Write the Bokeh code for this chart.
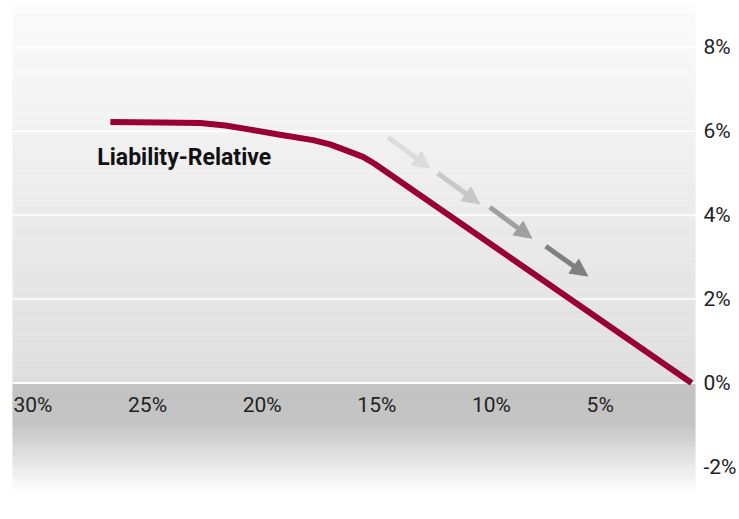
import numpy as np
from bokeh.plotting import figure
from bokeh.models import Range1d, Span, Arrow, NormalHead, ColumnDataSource, FixedTicker
from bokeh.core.properties import value
from bokeh.embed import file_html
from bokeh.resources import INLINE

# ---------------- data ----------------
x_tick_values = [30, 25, 20, 15, 10, 5]
x_tick_labels = ["30%", "25%", "20%", "15%", "10%", "5%"]
y_tick_values = [8, 6, 4, 2, 0, -2]
y_tick_labels = ["8%", "6%", "4%", "2%", "0%", "-2%"]
grid_values = [8, 6, 4, 2, 0]

curve_x = [25.77, 23.59, 21.85, 20.76, 19.67, 18.37, 16.93, 16.19, 15.32, 14.75, 14.23, 0.42]
curve_y = [6.22, 6.21, 6.20, 6.14, 6.04, 5.92, 5.79, 5.69, 5.51, 5.39, 5.22, 0.0]

series_name = "Liability-Relative"
series_label_x = [26.34]
series_label_y = [5.37]

arrow_x_start = [13.66, 11.49, 9.22, 6.78]
arrow_y_start = [5.86, 5.00, 4.19, 3.26]
arrow_x_end = [11.83, 9.66, 7.39, 4.95]
arrow_y_end = [5.12, 4.27, 3.45, 2.55]
arrow_colors = ["#dcdcdc", "#c8c8c8", "#a0a0a0", "#808080"]

# ---------------- styling ----------------
FONT = "Roboto"
X_START, X_END = 30.04, 0.25
Y_MIN, Y_MAX = -2.73, 9.0
LINE_COLOR = "#990033"

p = figure(width=739, height=519,
           x_range=Range1d(X_START, X_END), y_range=Range1d(Y_MIN, Y_MAX),
           x_axis_location=None, y_axis_location="right",
           output_backend="svg", toolbar_location=None,
           min_border_left=12, min_border_right=44, min_border_top=5, min_border_bottom=22,
           background_fill_color="white", border_fill_color="white",
           outline_line_color=None)
p.grid.visible = False

# right axis
ax = p.yaxis[0]
ax.ticker = FixedTicker(ticks=y_tick_values)
ax.major_label_overrides = {v: t for v, t in zip(y_tick_values, y_tick_labels)}
ax.axis_line_color = None
ax.major_tick_line_color = None
ax.minor_tick_line_color = None
ax.major_tick_out = 0
ax.major_tick_in = 0
ax.major_label_standoff = 8
ax.major_label_text_font = FONT
ax.major_label_text_font_size = "21px"
ax.major_label_text_color = "#222222"

# background gradient
edges = np.linspace(Y_MIN, Y_MAX, 241)
bottoms = edges[:-1]
tops = edges[1:]
mids = (bottoms + tops) / 2


def shade(y):
    if y >= 0:
        g = 222 + (251 - 222) * (y / Y_MAX)
    elif y >= -0.9:
        g = 194
    else:
        g = 194 + (255 - 194) * min(1.0, (-0.9 - y) / 1.7)
    g = int(round(g))
    return "#%02x%02x%02x" % (g, g, g)


bg_colors = [shade(m) for m in mids]
bg_src = ColumnDataSource(dict(bottom=bottoms, top=tops, color=bg_colors))
p.quad(left=X_START, right=X_END, bottom="bottom", top="top", source=bg_src,
       fill_color="color", line_color="color", line_width=0.6, level="image")

# grid lines
for v in grid_values:
    p.add_layout(Span(location=v, dimension="width", line_color="white",
                      line_width=2 if v == 0 else 1.5, level="underlay"))

# main curve
p.line(curve_x, curve_y, line_color=LINE_COLOR, line_width=6, line_join="round")

# arrows
for xs, ys, xe, ye, c in zip(arrow_x_start, arrow_y_start, arrow_x_end, arrow_y_end, arrow_colors):
    p.add_layout(Arrow(x_start=xs, y_start=ys, x_end=xe, y_end=ye,
                       line_color=c, line_width=5,
                       end=NormalHead(size=17, fill_color=c, line_color=c, line_width=1)))

# x tick labels (inside plot, below zero line)
xsrc = ColumnDataSource(dict(x=x_tick_values, y=[0] * len(x_tick_values), text=x_tick_labels))
p.text(x="x", y="y", text="text", source=xsrc, text_align="left", text_baseline="alphabetic",
       y_offset=22, text_font=value(FONT), text_font_size="21px", text_color="#222222")

# series label
p.text(x=series_label_x, y=series_label_y, text=[series_name], text_align="left",
       text_baseline="alphabetic", text_font=value(FONT), text_font_style="bold",
       text_font_size="23px", text_color="#111111")

open("out.html", "w").write(file_html(p, INLINE))
